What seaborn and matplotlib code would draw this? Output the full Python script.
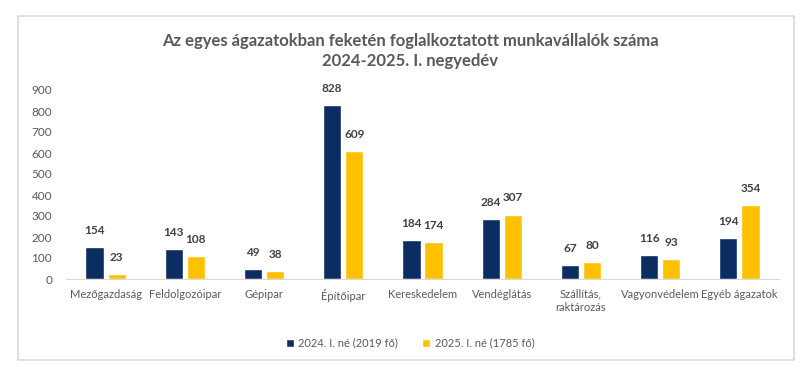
import matplotlib
matplotlib.use("Agg")
import matplotlib.pyplot as plt
import seaborn as sns
import pandas as pd
from matplotlib.patches import Rectangle

categories = ["Mezőgazdaság", "Feldolgozóipar", "Gépipar", "Építőipar", "Kereskedelem",
              "Vendéglátás", "Szállítás,\nraktározás", "Vagyonvédelem", "Egyéb ágazatok"]
series_names = ["2024. I. né (2019 fő)", "2025. I. né (1785 fő)"]
values_2024 = [154, 143, 49, 828, 184, 284, 67, 116, 194]
values_2025 = [23, 108, 38, 609, 174, 307, 80, 93, 354]
yticks = [0, 100, 200, 300, 400, 500, 600, 700, 800, 900]
title = "Az egyes ágazatokban feketén foglalkoztatott munkavállalók száma\n2024-2025. I. negyedév"

df = pd.DataFrame({
    "cat": categories * 2,
    "series": [series_names[0]] * len(categories) + [series_names[1]] * len(categories),
    "val": values_2024 + values_2025,
})

sns.set_theme(style="white")
plt.rcParams['font.family'] = ['Lato', 'DejaVu Sans']

fig = plt.figure(figsize=(8.11, 3.72), dpi=100)
ax = fig.add_axes([66 / 811, 1 - 279 / 372, (779 - 66) / 811, (279 - 90) / 372])

colors = ["#0B2D62", "#FFC000"]
sns.barplot(data=df, x="cat", y="val", hue="series", palette=colors, ax=ax,
            width=0.56, gap=0.18, legend=True, saturation=1)

for cont in ax.containers:
    ax.bar_label(cont, padding=8, fontsize=8.5, fontweight="bold", color="#404040")

ax.set_ylim(0, 900)
ax.set_yticks(yticks)
ax.set_xlim(-0.5, len(categories) - 0.5)
ax.set_xlabel("")
ax.set_ylabel("")
ax.tick_params(axis="y", labelsize=8.5, labelcolor="#595959", length=0, pad=10)
ax.tick_params(axis="x", labelsize=8, labelcolor="#595959", length=0, pad=7)
for s in ["top", "right", "left"]:
    ax.spines[s].set_visible(False)
ax.spines["bottom"].set_color("#D9D9D9")
ax.spines["bottom"].set_linewidth(0.8)

leg = ax.legend(loc="center", bbox_to_anchor=(410 / 811, 1 - 343 / 372),
                bbox_transform=fig.transFigure, ncol=2, frameon=False,
                fontsize=8, handlelength=0.7, handleheight=0.7, columnspacing=2.2,
                handletextpad=0.4)
for t in leg.get_texts():
    t.set_color("#595959")

fig.text(410 / 811, 1 - 51 / 372, title, ha="center", va="center", fontsize=12,
         fontweight="bold", color="#595959", linespacing=1.35)

fig.patches.append(Rectangle((18 / 811, 1 - 360 / 372), (794 - 18) / 811, (360 - 16) / 372,
                             transform=fig.transFigure, fill=False, edgecolor="#D9D9D9",
                             linewidth=1.2))

fig.savefig("out.png", dpi=100)
